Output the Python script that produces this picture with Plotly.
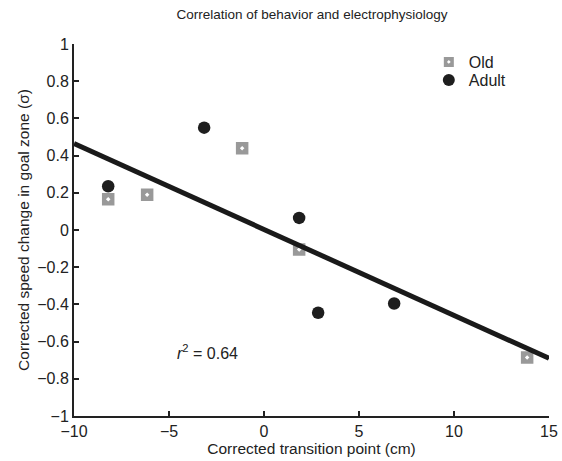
import plotly.graph_objects as go

old_x = [-8.2, -6.15, -1.15, 1.85, 13.85]
old_y = [0.165, 0.19, 0.44, -0.105, -0.685]
adult_x = [-8.2, -3.15, 1.85, 2.85, 6.85]
adult_y = [0.235, 0.55, 0.065, -0.445, -0.395]
fit_x = [-10, 15]
fit_y = [0.465, -0.69]

x_ticks = [-10, -5, 0, 5, 10, 15]
y_ticks = [-1, -0.8, -0.6, -0.4, -0.2, 0, 0.2, 0.4, 0.6, 0.8, 1]

font = "Liberation Sans, Arial, sans-serif"

fig = go.Figure()
fig.add_trace(go.Scatter(x=old_x, y=old_y, mode="markers", name="Old",
                         legend="legend",
                         marker=dict(symbol="square-dot", size=15, color="#999999",
                                     line=dict(color="white", width=2.5))))
fig.add_trace(go.Scatter(x=adult_x, y=adult_y, mode="markers", name="Adult",
                         legend="legend2",
                         marker=dict(symbol="circle", size=12.5, color="#1e1e1e",
                                     line=dict(width=0))))
fig.add_trace(go.Scatter(x=fit_x, y=fit_y, mode="lines",
                         line=dict(color="#1a1a1a", width=5), showlegend=False,
                         hoverinfo="skip"))

fig.add_annotation(x=-3.0, y=-0.655, text="<i>r</i><sup>2</sup> = 0.64",
                   showarrow=False, font=dict(size=16, color="#222"))

legend_style = dict(xanchor="left", yanchor="middle", bgcolor="rgba(0,0,0,0)",
                    font=dict(size=16), itemsizing="constant")

fig.update_layout(
    width=562, height=461,
    margin=dict(l=74, r=13, t=44, b=45),
    paper_bgcolor="white", plot_bgcolor="white",
    font=dict(family=font, size=13, color="#222"),
    title=dict(text="Correlation of behavior and electrophysiology",
               x=312 / 562, xanchor="center", xref="container",
               y=1 - 14 / 461, yanchor="middle", yref="container",
               font=dict(size=13.5, color="#222")),
    legend=dict(x=0.747, y=(416 - 62) / 372, **legend_style),
    legend2=dict(x=0.747, y=(416 - 80) / 372, **legend_style),
)
fig.update_xaxes(range=[-10, 15], tickvals=x_ticks, ticks="inside", ticklen=5,
                 tickwidth=1.5, tickcolor="#222", showline=True, linecolor="#222",
                 linewidth=2, showgrid=False, zeroline=False, automargin=False,
                 title=dict(text="Corrected transition point (cm)", standoff=2,
                            font=dict(size=15.5)),
                 tickfont=dict(size=16))
fig.update_yaxes(range=[-1, 1], tickvals=y_ticks, ticks="inside", ticklen=5,
                 tickwidth=1.5, tickcolor="#222", showline=True, linecolor="#222",
                 linewidth=2, showgrid=False, zeroline=False, automargin=False,
                 title=dict(text="Corrected speed change in goal zone (σ)", standoff=4,
                            font=dict(size=15.5)),
                 tickfont=dict(size=16))

fig.write_html("out.html", config={"displayModeBar": False},
               post_script="document.body.style.margin='0';document.body.style.padding='0';")
